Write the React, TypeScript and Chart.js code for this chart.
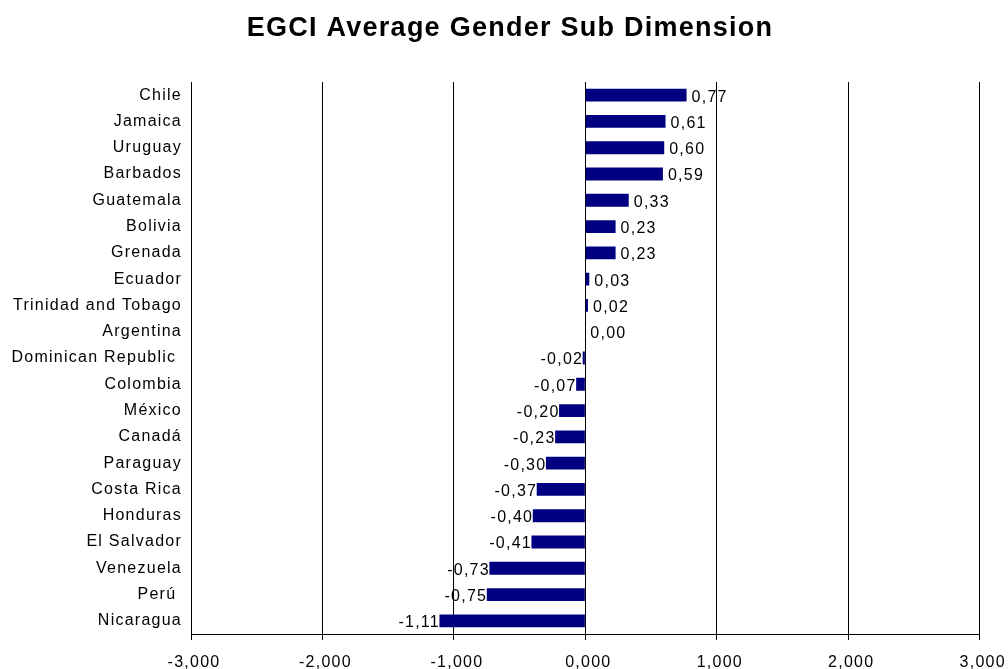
import React, { useEffect, useRef } from "react";
import { Chart, registerables } from "chart.js";

Chart.register(...registerables);

const countries = [
  "Chile",
  "Jamaica",
  "Uruguay",
  "Barbados",
  "Guatemala",
  "Bolivia",
  "Grenada",
  "Ecuador",
  "Trinidad and Tobago",
  "Argentina",
  "Dominican Republic ",
  "Colombia",
  "México",
  "Canadá",
  "Paraguay",
  "Costa Rica",
  "Honduras",
  "El Salvador",
  "Venezuela",
  "Perú ",
  "Nicaragua",
];

const scores = [
  0.77, 0.61, 0.6, 0.59, 0.33, 0.23, 0.23, 0.03, 0.02, 0.0, -0.02, -0.07, -0.2,
  -0.23, -0.3, -0.37, -0.4, -0.41, -0.73, -0.75, -1.11,
];

const axisMin = -3;
const axisMax = 3;

const FONT = "Arial, 'Liberation Sans', Helvetica, sans-serif";
const SPACING = "1.25px";

const fmt = (v: number, digits: number) => v.toFixed(digits).replace(".", ",");

// Slightly wider text tracking for everything the chart writes
const textTracking = {
  id: "textTracking",
  beforeDraw(chart: any) {
    (chart.ctx as any).letterSpacing = SPACING;
  },
  afterDraw(chart: any) {
    (chart.ctx as any).letterSpacing = "0px";
  },
};

// Writes each bar's value next to its end: right of positive bars, left of negative ones
const valueLabels = {
  id: "valueLabels",
  afterDatasetsDraw(chart: any) {
    const ctx = chart.ctx;
    const meta = chart.getDatasetMeta(0);
    const xScale = chart.scales.x;
    ctx.save();
    (ctx as any).letterSpacing = SPACING;
    ctx.font = `16px ${FONT}`;
    ctx.fillStyle = "#000";
    ctx.textBaseline = "middle";
    meta.data.forEach((bar: any, i: number) => {
      const v = scores[i];
      const end = xScale.getPixelForValue(v);
      const y = bar.y + 2;
      const text = fmt(v, 2);
      if (v < 0) {
        ctx.textAlign = "right";
        ctx.fillText(text, end + 0.5, y);
      } else {
        ctx.textAlign = "left";
        ctx.fillText(text, end + 5, y);
      }
    });
    ctx.restore();
  },
};

export default function App() {
  const canvasRef = useRef<HTMLCanvasElement | null>(null);

  useEffect(() => {
    document.body.style.margin = "0";
    const canvas = canvasRef.current;
    if (!canvas) return;
    const chart = new Chart(canvas, {
      type: "bar",
      data: {
        labels: countries,
        datasets: [
          {
            data: scores,
            backgroundColor: "#000080",
            borderWidth: 0,
            barPercentage: 0.49,
            categoryPercentage: 1,
          },
        ],
      },
      plugins: [textTracking, valueLabels],
      options: {
        indexAxis: "y",
        animation: false,
        responsive: false,
        devicePixelRatio: 1,
        layout: { padding: { left: 12, right: 0, top: 0, bottom: 0 } },
        plugins: {
          legend: { display: false },
          tooltip: { enabled: false },
          title: {
            display: true,
            text: "EGCI Average Gender Sub Dimension",
            color: "#000",
            font: { family: FONT, size: 27, weight: "bold", lineHeight: 1.2 },
            padding: { top: 12, bottom: 37.6 },
          },
        },
        scales: {
          x: {
            type: "linear",
            min: axisMin,
            max: axisMax,
            ticks: {
              stepSize: 1,
              color: "#000",
              font: { family: FONT, size: 16 },
              padding: 13,
              labelOffset: 3,
              maxRotation: 0,
              callback: (v: any) => fmt(Number(v), 3),
            },
            grid: {
              color: "#000",
              lineWidth: 1,
              drawTicks: true,
              tickLength: 6,
            },
            border: { display: true, color: "#000", width: 1 },
            afterFit: (scale: any) => {
              scale.height = 35;
              scale.paddingLeft = 0;
              scale.paddingRight = 28.3;
            },
          },
          y: {
            type: "category",
            ticks: {
              color: "#000",
              font: { family: FONT, size: 16 },
              padding: 9,
              autoSkip: false,
            },
            grid: { display: false, drawTicks: false },
            border: { display: false },
            afterFit: (scale: any) => {
              scale.width = 179;
            },
          },
        },
      },
    });
    return () => chart.destroy();
  }, []);

  return (
    <div style={{ width: 1008, height: 669, background: "#fff" }}>
      <canvas ref={canvasRef} width={1008} height={669} style={{ display: "block" }} />
    </div>
  );
}
